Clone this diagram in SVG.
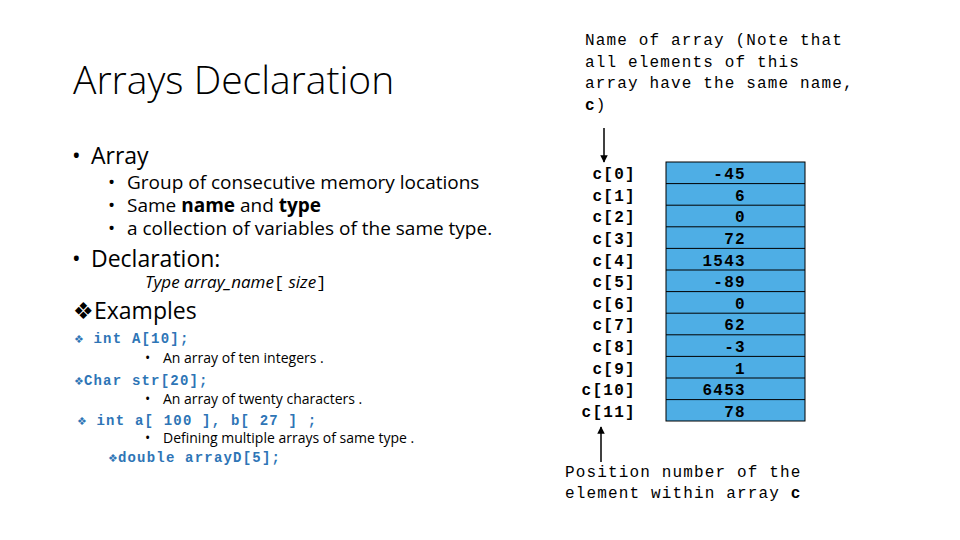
<svg xmlns="http://www.w3.org/2000/svg" width="960" height="540" viewBox="0 0 960 540">
<style>
.s{font-family:"Open Sans","Liberation Sans",sans-serif;fill:#000}
.c{font-family:"Liberation Mono",monospace;font-weight:bold;fill:#2e75b6;font-size:14px;letter-spacing:1.2px}
.m{font-family:"Liberation Mono",monospace;font-size:16px;fill:#000;letter-spacing:1.15px}
.mb{font-family:"Liberation Mono",monospace;font-weight:bold;font-size:16px;fill:#000;letter-spacing:1.3px}
.d{fill:#2e75b6;font-size:11px;font-family:"DejaVu Sans",sans-serif;letter-spacing:0}
</style>
<defs><marker id="a" viewBox="0 0 10 10" refX="9" refY="5" markerWidth="5" markerHeight="5" orient="auto"><path d="M0,0L10,5L0,10z" fill="#000"/></marker></defs>
<rect width="960" height="540" fill="#fff"/>
<g id="left">
<text class="s" x="73" y="94" font-size="39" font-weight="300">Arrays Declaration</text>
<text class="s" x="72" y="164" font-size="23">•</text><text class="s" x="91" y="164" font-size="23">Array</text>
<text class="s" x="108" y="189" font-size="19">•</text><text class="s" x="127" y="189" font-size="19">Group of consecutive memory locations</text>
<text class="s" x="108" y="212" font-size="19">•</text><text class="s" x="127" y="212" font-size="19">Same <tspan font-weight="bold">name</tspan> and <tspan font-weight="bold">type</tspan></text>
<text class="s" x="108" y="235" font-size="19">•</text><text class="s" x="127" y="235" font-size="19">a collection of variables of the same type.</text>
<text class="s" x="72" y="267" font-size="23">•</text><text class="s" x="91" y="267" font-size="23">Declaration:</text>
<text class="s" x="145" y="288" font-size="17" font-style="italic">Type array_name<tspan font-style="normal" font-family="Liberation Mono,monospace">[</tspan> size<tspan font-style="normal" font-family="Liberation Mono,monospace">]</tspan></text>
<text class="s" x="73" y="319" font-size="23">❖Examples</text>
<text class="c" x="74" y="343"><tspan class="d">❖</tspan> int A[10];</text>
<text class="s" x="145" y="363" font-size="14">•</text><text class="s" x="163" y="363" font-size="14">An array of ten integers .</text>
<text class="c" x="74" y="385"><tspan class="d">❖</tspan>Char str[20];</text>
<text class="s" x="145" y="404" font-size="14">•</text><text class="s" x="163" y="404" font-size="14">An array of twenty characters .</text>
<text class="c" x="77" y="425"><tspan class="d" font-size="8">❖</tspan>  int a[ 100 ], b[ 27 ] ;</text>
<text class="s" x="145" y="443" font-size="14">•</text><text class="s" x="163" y="443" font-size="14">Defining multiple arrays of same type .</text>
<text class="c" x="108" y="462"><tspan class="d">❖</tspan>double arrayD[5];</text>
</g>
<g id="title-note">
<text class="m" x="585" y="45">Name of array (Note that</text>
<text class="m" x="585" y="67">all elements of this</text>
<text class="m" x="585" y="88">array have the same name,</text>
<text class="m" x="585" y="110"><tspan font-weight="bold">c</tspan>)</text>
</g>
<g id="array">
<rect x="666" y="162" width="139" height="259" fill="#4eaee5" stroke="#000" stroke-width="1"/>
<g stroke="#000" stroke-width="1">
<line x1="666" y1="183.6" x2="805" y2="183.6"/><line x1="666" y1="205.2" x2="805" y2="205.2"/><line x1="666" y1="226.8" x2="805" y2="226.8"/><line x1="666" y1="248.4" x2="805" y2="248.4"/><line x1="666" y1="270" x2="805" y2="270"/><line x1="666" y1="291.6" x2="805" y2="291.6"/><line x1="666" y1="313.2" x2="805" y2="313.2"/><line x1="666" y1="334.8" x2="805" y2="334.8"/><line x1="666" y1="356.4" x2="805" y2="356.4"/><line x1="666" y1="378" x2="805" y2="378"/><line x1="666" y1="399.6" x2="805" y2="399.6"/>
</g>
<g class="mb" text-anchor="end">
<text x="746" y="179">-45</text><text x="746" y="201">6</text><text x="746" y="222">0</text><text x="746" y="244">72</text><text x="746" y="266">1543</text><text x="746" y="287">-89</text><text x="746" y="309">0</text><text x="746" y="330">62</text><text x="746" y="352">-3</text><text x="746" y="374">1</text><text x="746" y="395">6453</text><text x="746" y="417">78</text>
</g>
<g class="mb" text-anchor="end">
<text x="636" y="179">c[0]</text><text x="636" y="201">c[1]</text><text x="636" y="222">c[2]</text><text x="636" y="244">c[3]</text><text x="636" y="266">c[4]</text><text x="636" y="287">c[5]</text><text x="636" y="309">c[6]</text><text x="636" y="330">c[7]</text><text x="636" y="352">c[8]</text><text x="636" y="374">c[9]</text><text x="636" y="395">c[10]</text><text x="636" y="417">c[11]</text>
</g>
</g>
<g id="connectors" stroke="#000" stroke-width="1.5">
<line x1="604" y1="128" x2="604" y2="162" marker-end="url(#a)"/>
<line x1="601" y1="462" x2="601" y2="427" marker-end="url(#a)"/>
</g>
<g id="caption">
<text class="m" x="565" y="477">Position number of the</text>
<text class="m" x="565" y="498">element within array <tspan font-weight="bold">c</tspan></text>
</g>
</svg>
